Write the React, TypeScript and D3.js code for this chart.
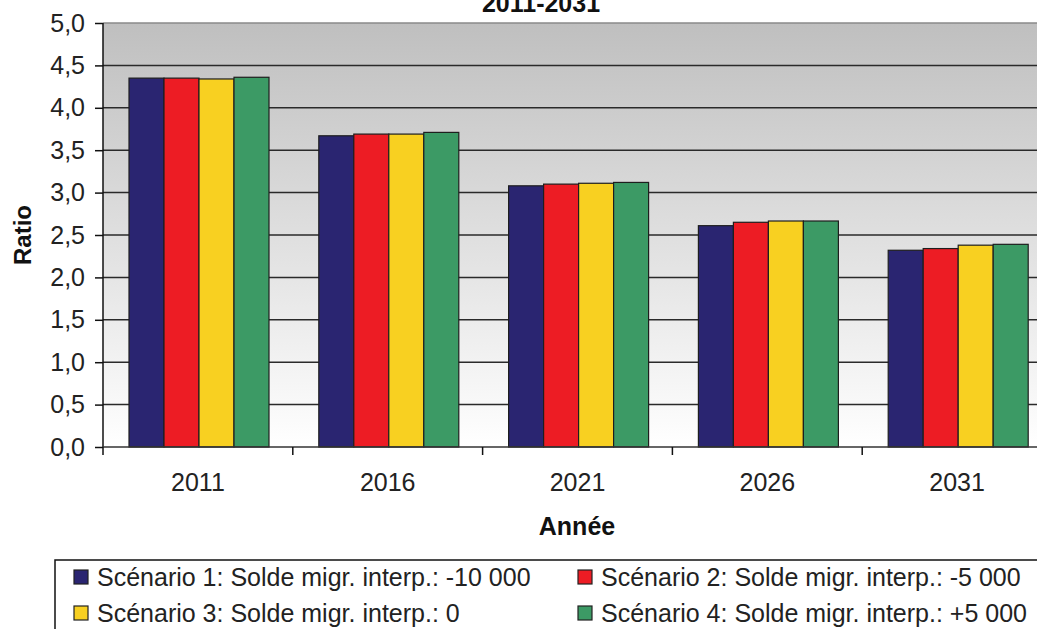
import React, { useEffect, useRef } from 'react';
import * as d3 from 'd3';

const years = ['2011', '2016', '2021', '2026', '2031'];
const seriesNames = [
  'Scénario 1: Solde migr. interp.: -10 000',
  'Scénario 2: Solde migr. interp.: -5 000',
  'Scénario 3: Solde migr. interp.: 0',
  'Scénario 4: Solde migr. interp.: +5 000',
];
const scenario1 = [4.35, 3.67, 3.08, 2.61, 2.32];
const scenario2 = [4.35, 3.69, 3.1, 2.65, 2.34];
const scenario3 = [4.34, 3.69, 3.11, 2.665, 2.38];
const scenario4 = [4.36, 3.71, 3.12, 2.665, 2.39];
const colors = ['#2a2571', '#ed1c24', '#f8d021', '#3c9a65'];
const yTicks = [0, 0.5, 1, 1.5, 2, 2.5, 3, 3.5, 4, 4.5, 5];

const App = () => {
  const svgRef = useRef<SVGSVGElement>(null);

  useEffect(() => {
    drawChart();
  }, []);

  const drawChart = () => {
    const width = 1037;
    const height = 629;
    const plot = { left: 103, top: 23, right: 1052, bottom: 447 };
    const font = 'Liberation Sans, Arial, sans-serif';
    const values = [scenario1, scenario2, scenario3, scenario4];

    const svg = d3.select(svgRef.current).attr('width', width).attr('height', height);
    svg.selectAll('*').remove();

    const defs = svg.append('defs');
    const grad = defs
      .append('linearGradient')
      .attr('id', 'bg')
      .attr('x1', 0)
      .attr('y1', 0)
      .attr('x2', 0)
      .attr('y2', 1);
    grad.append('stop').attr('offset', '0%').attr('stop-color', '#bfbfbf');
    grad.append('stop').attr('offset', '100%').attr('stop-color', '#ffffff');

    const x = d3.scaleBand().domain(years).range([plot.left, plot.right]).padding(0);
    const xs = d3
      .scaleBand()
      .domain(d3.range(4).map(String))
      .range([26, 166]);
    const y = d3.scaleLinear().domain([0, 5]).range([plot.bottom, plot.top]);

    // background
    svg
      .append('rect')
      .attr('x', plot.left)
      .attr('y', plot.top)
      .attr('width', plot.right - plot.left)
      .attr('height', plot.bottom - plot.top)
      .attr('fill', 'url(#bg)');

    // title (cut at the top, as in the source)
    svg
      .append('text')
      .attr('x', 541)
      .attr('y', 12)
      .attr('text-anchor', 'middle')
      .attr('font-family', font)
      .attr('font-weight', 'bold')
      .attr('font-size', 25)
      .attr('fill', '#111')
      .text('2011-2031');

    // gridlines
    svg
      .append('g')
      .selectAll('line')
      .data(yTicks.filter(t => t > 0 && t < 5))
      .enter()
      .append('line')
      .attr('x1', plot.left)
      .attr('x2', plot.right)
      .attr('y1', d => y(d))
      .attr('y2', d => y(d))
      .attr('stroke', '#2a2a2a')
      .attr('stroke-width', 1.5);

    svg
      .append('line')
      .attr('x1', plot.left)
      .attr('x2', plot.right)
      .attr('y1', plot.top)
      .attr('y2', plot.top)
      .attr('stroke', '#8a8a8a')
      .attr('stroke-width', 1.5);

    // bars
    const groups = svg
      .append('g')
      .selectAll('g')
      .data(years)
      .enter()
      .append('g')
      .attr('transform', d => `translate(${x(d)},0)`);

    groups
      .selectAll('rect')
      .data((d, i) => values.map((s, k) => ({ k, v: s[i] })))
      .enter()
      .append('rect')
      .attr('x', d => xs(String(d.k))!)
      .attr('y', d => y(d.v))
      .attr('width', xs.bandwidth())
      .attr('height', d => y(0) - y(d.v))
      .attr('fill', d => colors[d.k])
      .attr('stroke', '#1e1e1e')
      .attr('stroke-width', 1.2);

    // y axis
    const yAxis = svg
      .append('g')
      .attr('transform', `translate(${plot.left},0)`)
      .call(
        d3
          .axisLeft(y)
          .tickValues(yTicks)
          .tickSize(8)
          .tickPadding(10)
          .tickFormat(d => d3.format('.1f')(d as number).replace('.', ','))
      );
    yAxis.select('.domain').attr('stroke', '#111').attr('stroke-width', 1.5).attr('d', `M0,${plot.top}V${plot.bottom}`);
    yAxis.selectAll('.tick line').attr('stroke', '#111').attr('stroke-width', 1.5);
    yAxis
      .selectAll('.tick text')
      .attr('font-family', font)
      .attr('font-size', 25)
      .attr('fill', '#222');

    // x axis
    const xAxis = svg
      .append('g')
      .attr('transform', `translate(0,${plot.bottom})`)
      .call(d3.axisBottom(x).tickSize(0).tickPadding(26));
    xAxis.select('.domain').attr('stroke', '#333').attr('stroke-width', 1.5).attr('d', `M${plot.left},0H${plot.right}`);
    xAxis
      .selectAll('.tick text')
      .attr('font-family', font)
      .attr('font-size', 25)
      .attr('fill', '#222');
    xAxis
      .append('g')
      .selectAll('line')
      .data(years.concat(['end']))
      .enter()
      .append('line')
      .attr('x1', (d, i) => plot.left + i * x.step())
      .attr('x2', (d, i) => plot.left + i * x.step())
      .attr('y1', 0)
      .attr('y2', 8)
      .attr('stroke', '#111')
      .attr('stroke-width', 1.5);

    // axis titles
    svg
      .append('text')
      .attr('x', 577)
      .attr('y', 535)
      .attr('text-anchor', 'middle')
      .attr('font-family', font)
      .attr('font-weight', 'bold')
      .attr('font-size', 25)
      .attr('fill', '#111')
      .text('Année');

    svg
      .append('text')
      .attr('transform', 'translate(31,235) rotate(-90)')
      .attr('text-anchor', 'middle')
      .attr('font-family', font)
      .attr('font-weight', 'bold')
      .attr('font-size', 24)
      .attr('fill', '#111')
      .text('Ratio');

    // legend
    svg
      .append('rect')
      .attr('x', 55)
      .attr('y', 560)
      .attr('width', 1000)
      .attr('height', 100)
      .attr('fill', '#fff')
      .attr('stroke', '#111')
      .attr('stroke-width', 1.5);

    const legend = svg
      .append('g')
      .selectAll('g')
      .data(seriesNames)
      .enter()
      .append('g')
      .attr('transform', (d, i) => `translate(${i % 2 === 0 ? 74 : 578},${i < 2 ? 570 : 606})`);
    legend
      .append('rect')
      .attr('width', 14)
      .attr('height', 14)
      .attr('fill', (d, i) => colors[i])
      .attr('stroke', '#222')
      .attr('stroke-width', 1.2);
    legend
      .append('text')
      .attr('x', 23)
      .attr('y', 16)
      .attr('font-family', font)
      .attr('font-size', 25)
      .attr('fill', '#222')
      .text(d => d);
  };

  return <svg ref={svgRef} style={{ position: 'absolute', left: 0, top: 0 }}></svg>;
};

export default App;
